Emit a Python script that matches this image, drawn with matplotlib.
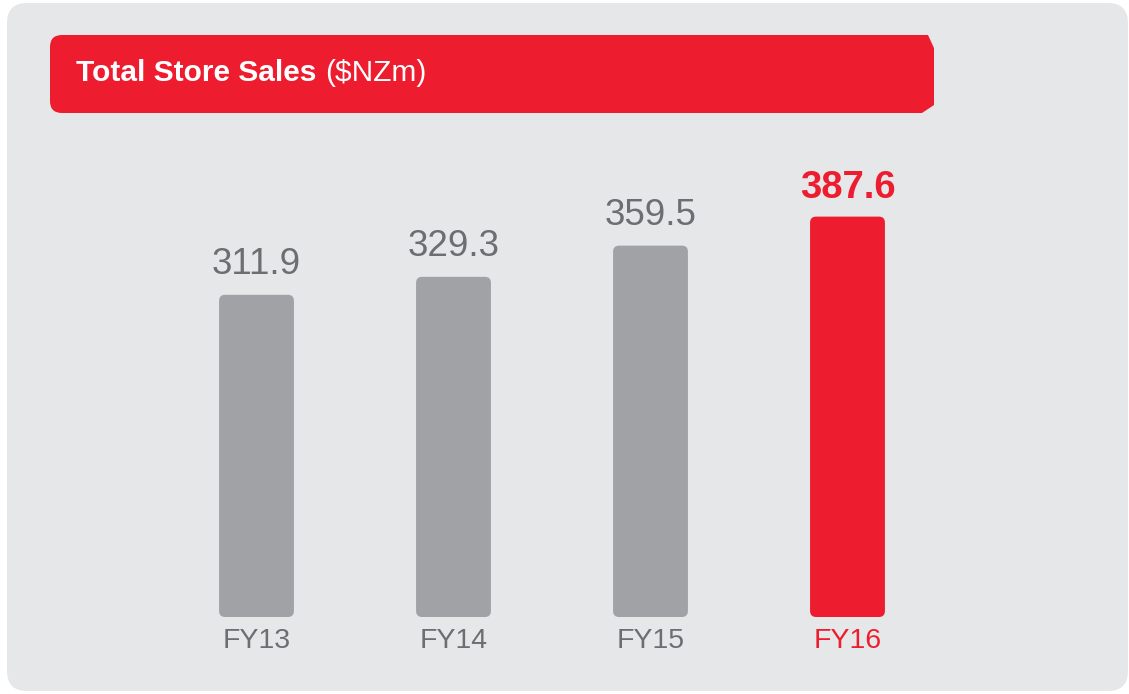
import matplotlib
matplotlib.use("Agg")
import matplotlib.pyplot as plt
from matplotlib.patches import FancyBboxPatch, PathPatch
from matplotlib.path import Path

categories = ["FY13", "FY14", "FY15", "FY16"]
values = [311.9, 329.3, 359.5, 387.6]
value_labels = ["311.9", "329.3", "359.5", "387.6"]
title_bold = "Total Store Sales"
title_regular = "($NZm)"

RED = "#ED1C2E"
GREY_BAR = "#A1A2A5"
GREY_TXT = "#6D6E71"
PANEL = "#E6E7E9"

W, H, DPI = 1129, 694, 100
plt.rcParams['font.family'] = ['Liberation Sans', 'DejaVu Sans']
fig = plt.figure(figsize=(W / DPI, H / DPI), dpi=DPI, facecolor="white")

# background axes in pixel coordinates
bg = fig.add_axes([0, 0, 1, 1], zorder=0)
bg.set_xlim(0, W)
bg.set_ylim(H, 0)
bg.axis("off")
bg.add_patch(FancyBboxPatch((27, 23), 1128 - 27 - 20, 691 - 23 - 20,
                            boxstyle="round,pad=20,rounding_size=20",
                            facecolor=PANEL, edgecolor="none"))
verts = [(62, 35), (928, 35), (934, 48), (934, 105), (922, 113), (62, 113),
         (50, 113), (50, 101), (50, 47), (50, 35), (62, 35)]
codes = [Path.MOVETO, Path.LINETO, Path.LINETO, Path.LINETO, Path.LINETO, Path.LINETO,
         Path.CURVE3, Path.CURVE3, Path.LINETO, Path.CURVE3, Path.CURVE3]
bg.add_patch(PathPatch(Path(verts, codes), facecolor=RED, edgecolor="none"))
bg.text(76, 81, title_bold, color="white", fontsize=21.5, fontweight="bold", va="baseline")
bg.text(325, 81, title_regular, color="white", fontsize=21.5, va="baseline")

# main chart axes
x0_px, x1_px = 158, 946
y0_px = 617
ymax = 420
scale = 1.033
ax = fig.add_axes([x0_px / W, (H - y0_px) / H, (x1_px - x0_px) / W, ymax * scale / H], zorder=1)
ax.patch.set_alpha(0)
ax.set_xlim(-0.5, 3.5)
ax.set_ylim(0, ymax)
for s in ax.spines.values():
    s.set_visible(False)
ax.set_yticks([])

colors = [GREY_BAR, GREY_BAR, GREY_BAR, RED]
bars = ax.bar(range(len(categories)), values, width=0.38, color=colors)
px_per_x = (x1_px - x0_px) / 4.0
px_per_y = scale
aspect = (1 / px_per_y) / (1 / px_per_x)
for b, c in zip(bars, colors):
    x, w, h = b.get_x(), b.get_width(), b.get_height()
    b.remove()
    r = 6 / px_per_x
    ax.add_patch(FancyBboxPatch((x + r, r * aspect), w - 2 * r, h - 2 * r * aspect,
                                boxstyle=f"round,pad={r},rounding_size={r}",
                                mutation_aspect=aspect, facecolor=c, edgecolor="none"))

for i, (v, lab) in enumerate(zip(values, value_labels)):
    last = i == len(values) - 1
    ax.annotate(lab, xy=(i, v), xytext=(0, 21 * 0.72 if not last else 19 * 0.72),
                textcoords="offset points", ha="center", va="baseline",
                fontsize=27.5 if last else 26.5, fontweight="bold" if last else "normal",
                color=RED if last else GREY_TXT)

ax.set_xticks(range(len(categories)))
ax.set_xticklabels(categories, fontsize=20.5)
ax.tick_params(axis="x", length=0, pad=8)
for t, c in zip(ax.get_xticklabels(), [GREY_TXT, GREY_TXT, GREY_TXT, RED]):
    t.set_color(c)

fig.savefig("out.png", dpi=DPI, facecolor="white")
